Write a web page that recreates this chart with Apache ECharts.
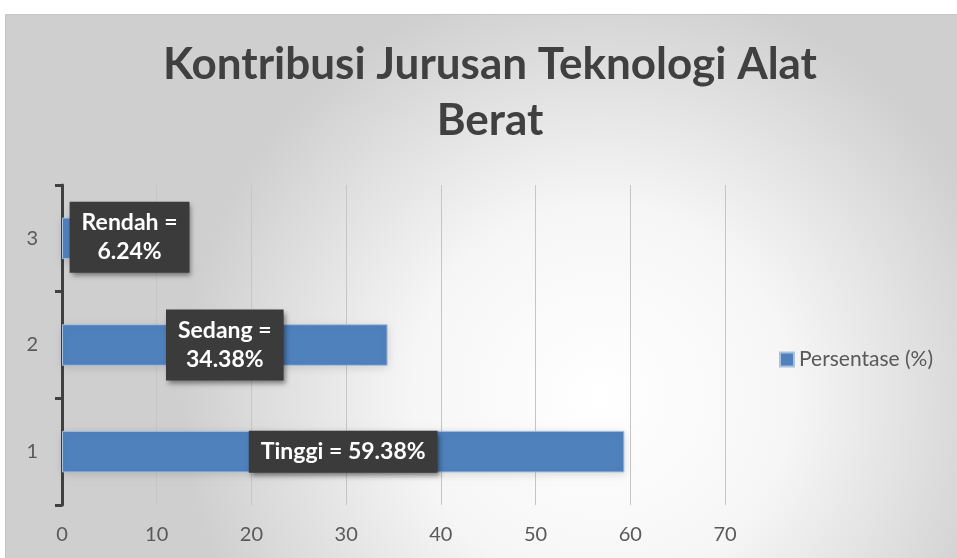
<!DOCTYPE html>
<html>
<head>
<meta charset="utf-8">
<script src="https://cdn.jsdelivr.net/npm/echarts@6/dist/echarts.min.js"></script>
<style>html,body{margin:0;padding:0;background:#fff;}#c{width:957px;height:558px;}</style>
</head>
<body>
<div id="c"></div>
<script>
var categories = ['1', '2', '3'];
var values = [59.38, 34.38, 6.24];
var labelTexts = ['Tinggi = 59.38%', 'Sedang =\n34.38%', 'Rendah =\n6.24%'];
var seriesName = 'Persentase (%)';
var titleText = 'Kontribusi Jurusan Teknologi Alat\nBerat';
var xTicks = {min: 0, max: 70, interval: 10};

var FONT = 'Lato, "Open Sans", sans-serif';
var labelOffsets = [[0, 0], [0, 0], [38, -1]];

var chart = echarts.init(document.getElementById('c'), null, {renderer: 'canvas'});
var option = {
  backgroundColor: 'transparent',
  animation: false,
  graphic: [{
    type: 'rect', z: -10, silent: true,
    shape: {x: 5.5, y: 14.5, width: 960, height: 560},
    style: {
      fill: new echarts.graphic.RadialGradient(0.62, 0.68, 0.75, [
        {offset: 0, color: '#ffffff'},
        {offset: 0.45, color: '#f6f6f6'},
        {offset: 1, color: '#cfcfcf'}
      ]),
      stroke: '#c4c4c4', lineWidth: 1
    }
  }],
  title: {
    text: titleText,
    left: 490,
    textAlign: 'center',
    top: 37,
    padding: 0,
    textStyle: {
      fontFamily: FONT, fontWeight: 'bold', fontSize: 44,
      color: '#404040', lineHeight: 56
    }
  },
  legend: {
    data: [seriesName],
    orient: 'vertical',
    left: 774, top: 344,
    itemWidth: 14, itemHeight: 14, itemGap: 7,
    icon: 'rect',
    textStyle: {fontFamily: FONT, fontSize: 21, color: '#595959'}
  },
  grid: {left: 62, right: 232, top: 185, bottom: 53, containLabel: false},
  xAxis: {
    type: 'value',
    min: xTicks.min, max: xTicks.max, interval: xTicks.interval,
    axisLine: {show: false},
    axisTick: {show: false},
    splitLine: {show: true, lineStyle: {color: '#c6c6c6', width: 1}},
    axisLabel: {fontFamily: FONT, fontSize: 20, color: '#595959', margin: 20}
  },
  yAxis: {
    type: 'category',
    data: categories,
    axisLine: {show: true, lineStyle: {color: '#404040', width: 3}},
    axisTick: {show: true, length: 7, lineStyle: {color: '#404040', width: 3}},
    splitLine: {show: false},
    axisLabel: {fontFamily: FONT, fontSize: 20, color: '#595959', margin: 24}
  },
  series: [{
    name: seriesName,
    type: 'bar',
    barCategoryGap: '61%',
    itemStyle: {
      color: '#4f81bd', borderColor: '#a9c0de', borderWidth: 1,
      shadowColor: 'rgba(0,0,0,0.12)', shadowBlur: 8, shadowOffsetX: 0, shadowOffsetY: 2
    },
    data: values.map(function (v, i) {
      return {
        value: v,
        label: {offset: labelOffsets[i]}
      };
    }),
    label: {
      show: true,
      position: 'inside',
      formatter: function (p) { return labelTexts[p.dataIndex]; },
      fontFamily: FONT, fontWeight: 'bold', fontSize: 23, color: '#ffffff',
      lineHeight: 29, align: 'center',
      backgroundColor: '#3b3b3b',
      padding: [7, 12, 6, 12],
      shadowColor: 'rgba(0,0,0,0.45)', shadowBlur: 5, shadowOffsetX: 2, shadowOffsetY: 3
    }
  }]
};
chart.setOption(option);
</script>
</body>
</html>
